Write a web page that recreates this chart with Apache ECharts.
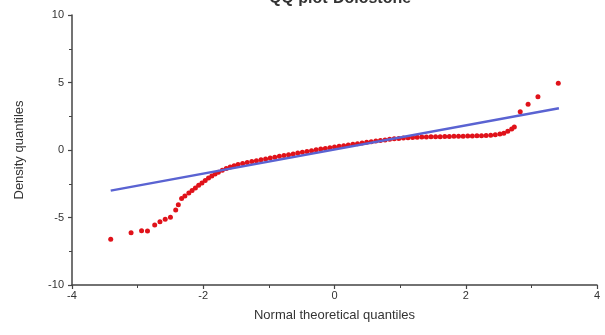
<!DOCTYPE html>
<html>
<head>
<meta charset="utf-8">
<script src="https://cdn.jsdelivr.net/npm/echarts@6/dist/echarts.min.js"></script>
<style>
  html, body { margin: 0; padding: 0; background: #fff; }
  #chart { width: 605px; height: 335px; }
</style>
</head>
<body>
<div id="chart"></div>
<script>
// theoretical quantiles (x) and sample quantiles (y)
const theoQ = [
  -3.41, -3.10, -2.94, -2.85, -2.74, -2.66, -2.58, -2.50, -2.42, -2.38,
  -2.33, -2.28, -2.22, -2.17, -2.12, -2.07, -2.02, -1.97, -1.92, -1.87,
  -1.82, -1.77, -1.71, -1.65, -1.59, -1.53, -1.47, -1.40, -1.33, -1.26,
  -1.19, -1.12, -1.05, -0.98, -0.91, -0.84, -0.77, -0.70, -0.63, -0.56,
  -0.49, -0.42, -0.35, -0.28, -0.21, -0.14, -0.07, 0.00, 0.07, 0.14,
  0.21, 0.28, 0.35, 0.42, 0.49, 0.56, 0.63, 0.70, 0.77, 0.84,
  0.91, 0.98, 1.05, 1.12, 1.19, 1.26, 1.33, 1.40, 1.47, 1.54,
  1.61, 1.68, 1.75, 1.82, 1.89, 1.96, 2.03, 2.10, 2.17, 2.24,
  2.31, 2.38, 2.45, 2.52, 2.58, 2.64, 2.70, 2.74, 2.83, 2.95,
  3.10, 3.41
]
const densQ = [
  -6.61, -6.13, -5.98, -6.00, -5.56, -5.31, -5.13, -4.99, -4.44, -4.05,
  -3.60, -3.40, -3.19, -3.00, -2.82, -2.62, -2.45, -2.26, -2.08, -1.93,
  -1.78, -1.64, -1.50, -1.37, -1.25, -1.16, -1.08, -1.00, -0.93, -0.86,
  -0.80, -0.73, -0.66, -0.60, -0.54, -0.47, -0.41, -0.35, -0.29, -0.23,
  -0.17, -0.11, -0.05, 0.01, 0.07, 0.12, 0.17, 0.22, 0.27, 0.32,
  0.37, 0.42, 0.47, 0.52, 0.57, 0.62, 0.67, 0.71, 0.75, 0.79,
  0.83, 0.86, 0.89, 0.91, 0.93, 0.95, 0.96, 0.97, 0.98, 0.99,
  0.99, 1.00, 1.00, 1.01, 1.01, 1.02, 1.03, 1.04, 1.05, 1.06,
  1.08, 1.10, 1.13, 1.18, 1.24, 1.38, 1.55, 1.70, 2.84, 3.38,
  3.95, 4.94
]
// reference line end points
const refLineX = [-3.41, 3.42]
const refLineY = [-3.01, 3.09]

const chart = echarts.init(document.getElementById('chart'))

const points = theoQ.map((x, i) => [x, densQ[i]])
const refLine = refLineX.map((x, i) => [x, refLineY[i]])

const axisFont = { fontFamily: 'Liberation Sans, Arial, sans-serif', fontSize: 11, color: '#333' }

chart.setOption({
  animation: false,
  title: {
    text: 'QQ plot-Dolostone',
    left: 335,
    top: -14,
    textAlign: 'center',
    textStyle: { fontFamily: 'Liberation Sans, Arial, sans-serif', fontSize: 16, fontWeight: 'bold', color: '#333' }
  },
  grid: { left: 72, right: 8, top: 15, bottom: 50 },
  xAxis: {
    type: 'value',
    min: -4,
    max: 4,
    interval: 2,
    name: 'Normal theoretical quantiles',
    nameLocation: 'middle',
    nameGap: 24,
    nameTextStyle: { fontFamily: 'Liberation Sans, Arial, sans-serif', fontSize: 13, color: '#333' },
    axisLine: { onZero: false, lineStyle: { color: '#444', width: 1.5 } },
    axisTick: { length: 4, lineStyle: { color: '#444', width: 1.2 } },
    minorTick: { show: true, splitNumber: 2, length: 3, lineStyle: { color: '#444' } },
    axisLabel: Object.assign({ margin: 5 }, axisFont),
    splitLine: { show: false }
  },
  yAxis: {
    type: 'value',
    min: -10,
    max: 10,
    interval: 5,
    name: 'Density quantiles',
    nameLocation: 'middle',
    nameGap: 46,
    nameTextStyle: { fontFamily: 'Liberation Sans, Arial, sans-serif', fontSize: 13, color: '#333' },
    axisLine: { onZero: false, lineStyle: { color: '#444', width: 1.5 } },
    axisTick: { length: 4, lineStyle: { color: '#444', width: 1.2 } },
    minorTick: { show: true, splitNumber: 2, length: 3, lineStyle: { color: '#444' } },
    axisLabel: Object.assign({ margin: 8 }, axisFont),
    splitLine: { show: false }
  },
  series: [
    {
      name: 'Dolostone',
      type: 'scatter',
      data: points,
      symbol: 'circle',
      symbolSize: 5,
      itemStyle: { color: '#e0121a', opacity: 1 },
      z: 2
    },
    {
      name: 'Reference',
      type: 'line',
      data: refLine,
      symbol: 'none',
      lineStyle: { color: '#5a63d2', width: 2.5 },
      z: 3
    }
  ]
})
</script>
</body>
</html>
